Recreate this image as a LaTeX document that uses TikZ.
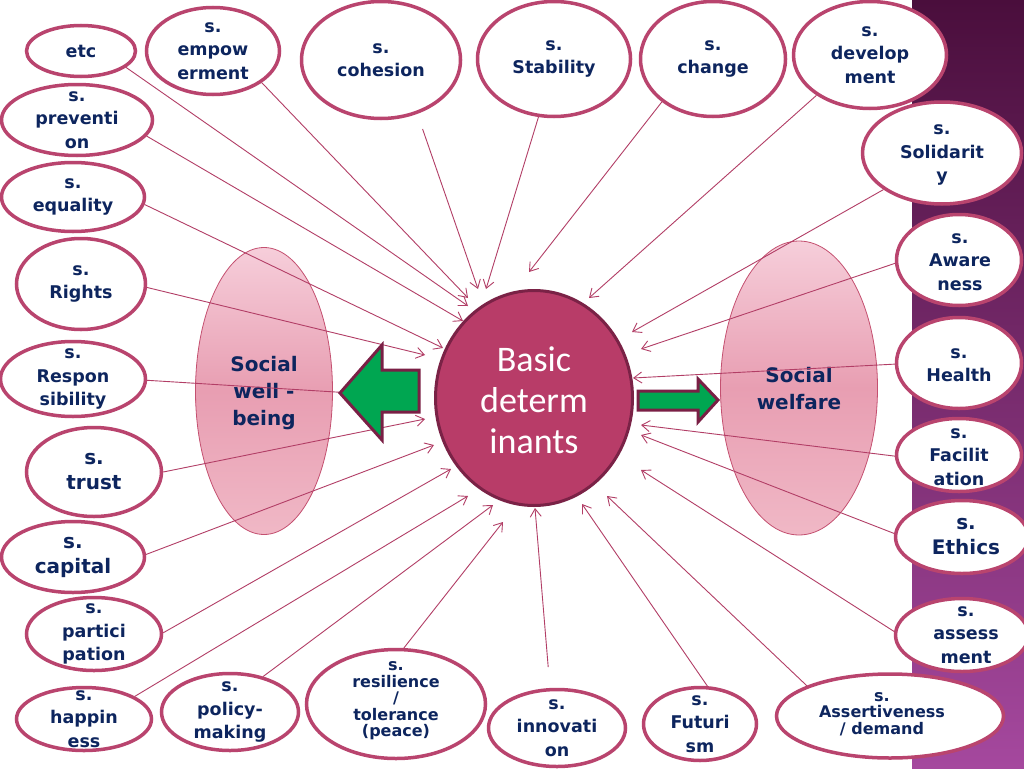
\documentclass[tikz,border=0pt]{standalone}
\usepackage{fontspec}
\setmainfont{DejaVu Sans}
\newfontfamily\calib{Carlito}
\usetikzlibrary{arrows.meta,shapes.geometric}
\definecolor{rim}{RGB}{185,68,110}
\definecolor{txt}{RGB}{13,37,94}
\definecolor{lnc}{RGB}{178,62,102}
\definecolor{core}{RGB}{184,60,104}
\definecolor{coreedge}{RGB}{122,34,70}
\definecolor{arrgreen}{RGB}{0,166,81}
\definecolor{arredge}{RGB}{122,31,69}
\definecolor{bandtop}{RGB}{74,14,60}
\definecolor{bandbot}{RGB}{165,72,158}
\definecolor{pinktop}{RGB}{246,206,218}
\definecolor{pinkmid}{RGB}{232,158,178}
\definecolor{pinkbot}{RGB}{240,184,198}
\definecolor{pinkrim}{RGB}{196,80,112}
\begin{document}
\begin{tikzpicture}[x=1pt,y=-1pt,
  item/.style={ellipse, draw=rim, line width=3.5pt, fill=white, inner sep=0pt},
  lbl/.style={text=txt, align=center, inner sep=0pt, font=\fontsize{17.5}{23.5}\selectfont\bfseries},
  biglbl/.style={lbl, font=\fontsize{20}{25}\selectfont\bfseries},
  tightlbl/.style={lbl, font=\fontsize{16}{16.5}\selectfont\bfseries},
  conn/.style={draw=lnc, line width=0.9pt, -{Straight Barb[length=8pt,width=11pt]}},
  plain/.style={draw=lnc, line width=0.9pt},
  pinkoval/.style={ellipse, draw=pinkrim, line width=0.8pt, top color=pinktop, bottom color=pinkbot, middle color=pinkmid, inner sep=0pt},
  garrow/.style={fill=arrgreen, draw=arredge, line width=3pt, line join=miter},
  sidelbl/.style={text=txt, align=center, inner sep=0pt, font=\fontsize{20}{27}\selectfont\bfseries}
]
\useasboundingbox (0,0) rectangle (1024,768);
\fill[white] (0,0) rectangle (1024,768);
% right band
\node[rectangle, anchor=north west, inner sep=0pt, outer sep=0pt, minimum width=112pt, minimum height=768pt, top color=bandtop, bottom color=bandbot] (band) at (912,0) {};

% pink ovals
\node[pinkoval, minimum width=137pt, minimum height=287pt] (wellbeing) at (264,391) {};
\node[pinkoval, minimum width=157pt, minimum height=294pt] (welfare) at (799,388) {};
\node[sidelbl] at (264,393) {Social\\well -\\being};
\node[sidelbl] at (799,389) {Social\\welfare};

% core
\node[ellipse, draw=coreedge, fill=core, line width=3pt, minimum width=197pt, minimum height=215pt] (core) at (534,398) {};
\node[text=white, align=center, inner sep=0pt, font=\calib\fontsize{36}{41}\selectfont] at (534,400) {Basic\\determ\\inants};

% satellite ellipses
\node[item, minimum width=109pt, minimum height=51pt] (etc) at (81,51) {};
\node[item, minimum width=133pt, minimum height=87pt] (empow) at (213,51) {};
\node[item, minimum width=159pt, minimum height=117pt] (cohes) at (381,60) {};
\node[item, minimum width=153pt, minimum height=115pt] (stab) at (554,59) {};
\node[item, minimum width=145pt, minimum height=115pt] (chg) at (713,59) {};
\node[item, minimum width=153pt, minimum height=107pt] (devel) at (870,55) {};
\node[item, minimum width=159pt, minimum height=102pt] (solid) at (942,153) {};
\node[item, minimum width=151pt, minimum height=71pt] (prev) at (77,120) {};
\node[item, minimum width=143pt, minimum height=69pt] (equal) at (73,197) {};
\node[item, minimum width=129pt, minimum height=91pt] (rights) at (81,284) {};
\node[item, minimum width=145pt, minimum height=75pt] (resp) at (73,379) {};
\node[item, minimum width=135pt, minimum height=89pt] (trust) at (94,472) {};
\node[item, minimum width=143pt, minimum height=71pt] (capital) at (73,557) {};
\node[item, minimum width=135pt, minimum height=73pt] (partic) at (94,634) {};
\node[item, minimum width=135pt, minimum height=63pt] (happy) at (84,719) {};
\node[item, minimum width=137pt, minimum height=77pt] (policy) at (230,712) {};
\node[item, minimum width=179pt, minimum height=109pt] (resil) at (396,704) {};
\node[item, minimum width=137pt, minimum height=77pt] (innov) at (557,728) {};
\node[item, minimum width=113pt, minimum height=73pt] (futur) at (700,724) {};
\node[item, minimum width=227pt, minimum height=84pt] (assert) at (890,716) {};
\node[item, minimum width=133pt, minimum height=73pt] (assess) at (962,635) {};
\node[item, minimum width=133pt, minimum height=73pt] (ethics) at (962,537) {};
\node[item, minimum width=125pt, minimum height=73pt] (facil) at (959,455) {};
\node[item, minimum width=125pt, minimum height=91pt] (health) at (959,363) {};
\node[item, minimum width=125pt, minimum height=91pt] (aware) at (959,260) {};

% labels
\node[lbl] at (etc) {etc};
\node[lbl] at (empow) {s.\\empow\\erment};
\node[lbl] at (cohes) {s.\\cohesion};
\node[lbl] at (stab) {s.\\Stability};
\node[lbl] at (chg) {s.\\change};
\node[lbl] at (devel) {s.\\develop\\ment};
\node[lbl] at (942,155) {s.\\Solidarit\\y};
\node[lbl] at (prev) {s.\\preventi\\on};
\node[lbl] at (equal) {s.\\equality};
\node[lbl] at (rights) {s.\\Rights};
\node[lbl] at (resp) {s.\\Respon\\sibility};
\node[biglbl] at (trust) {s.\\trust};
\node[biglbl] at (capital) {s.\\capital};
\node[lbl] at (partic) {s.\\partici\\pation};
\node[lbl] at (happy) {s.\\happin\\ess};
\node[lbl] at (policy) {s.\\policy-\\making};
\node[tightlbl] at (396,701) {s.\\resilience\\/\\tolerance\\(peace)};
\node[lbl] at (innov) {s.\\innovati\\on};
\node[lbl] at (futur) {s.\\Futuri\\sm};
\node[tightlbl] at (882,714) {s.\\Assertiveness\\/ demand};
\node[lbl] at (966,635) {s.\\assess\\ment};
\node[biglbl] at (966,537) {s.\\Ethics};
\node[lbl] at (959,457) {s.\\Facilit\\ation};
\node[lbl] at (959,365) {s.\\Health};
\node[lbl] at (960,262) {s.\\Aware\\ness};

% arrow tip coordinates
\coordinate (t-etc) at (468,306);
\coordinate (t-empow) at (468,298);
\coordinate (t-cohes) at (478,289);
\coordinate (t-stab) at (486,289);
\coordinate (t-chg) at (529,272);
\coordinate (t-devel) at (589,298);
\coordinate (t-solid) at (632,332);
\coordinate (t-aware) at (641,349);
\coordinate (t-health) at (633,378);
\coordinate (t-facil) at (641,425);
\coordinate (t-ethics) at (641,435);
\coordinate (t-assess) at (641,470);
\coordinate (t-assert) at (607,496);
\coordinate (t-futur) at (582,504);
\coordinate (t-innov) at (535,508);
\coordinate (t-resil) at (503,522);
\coordinate (t-policy) at (493,505);
\coordinate (t-happy) at (468,496);
\coordinate (t-partic) at (451,469);
\coordinate (t-capital) at (434,445);
\coordinate (t-trust) at (425,419);
\coordinate (t-rights) at (425,355);
\coordinate (t-equal) at (443,348);
\coordinate (t-prev) at (463,321);
\coordinate (resp-end) at (400,396);

% connectors
\draw[conn] (etc.-20) -- (t-etc);
\draw[conn] (empow.-33) -- (t-empow);
\draw[conn, shorten <=16pt] (cohes.-56) -- (t-cohes);
\draw[conn] (stab.-105) -- (t-stab);
\draw[conn] (chg.-140) -- (t-chg);
\draw[conn] (devel.-143) -- (t-devel);
\draw[conn] (solid.-148) -- (t-solid);
\draw[conn] (aware.-177) -- (t-aware);
\draw[conn] (health.-179) -- (t-health);
\draw[conn] (facil.-179) -- (t-facil);
\draw[conn] (ethics.177) -- (t-ethics);
\draw[conn] (assess.177) -- (t-assess);
\draw[conn] (assert.160) -- (t-assert);
\draw[conn] (futur.79) -- (t-futur);
\draw[conn, shorten <=21pt] (innov.100) -- (t-innov);
\draw[conn] (resil.82) -- (t-resil);
\draw[conn] (policy.47) -- (t-policy);
\draw[conn] (happy.24) -- (t-happy);
\draw[conn] (partic.1) -- (t-partic);
\draw[conn] (capital.2) -- (t-capital);
\draw[conn] (trust.0) -- (t-trust);
\draw[plain] (resp.-1) -- (resp-end);
\draw[conn] (rights.-3) -- (t-rights);
\draw[conn] (equal.-6) -- (t-equal);
\draw[conn] (prev.-13) -- (t-prev);

% green arrows
\draw[garrow] (340,393) -- (382,345) -- (382,370) -- (419,370) -- (419,412) -- (382,412) -- (382,440) -- cycle;
\draw[garrow] (718,400) -- (698,379) -- (698,391) -- (638,391) -- (638,410) -- (698,410) -- (698,422) -- cycle;
\end{tikzpicture}
\end{document}
